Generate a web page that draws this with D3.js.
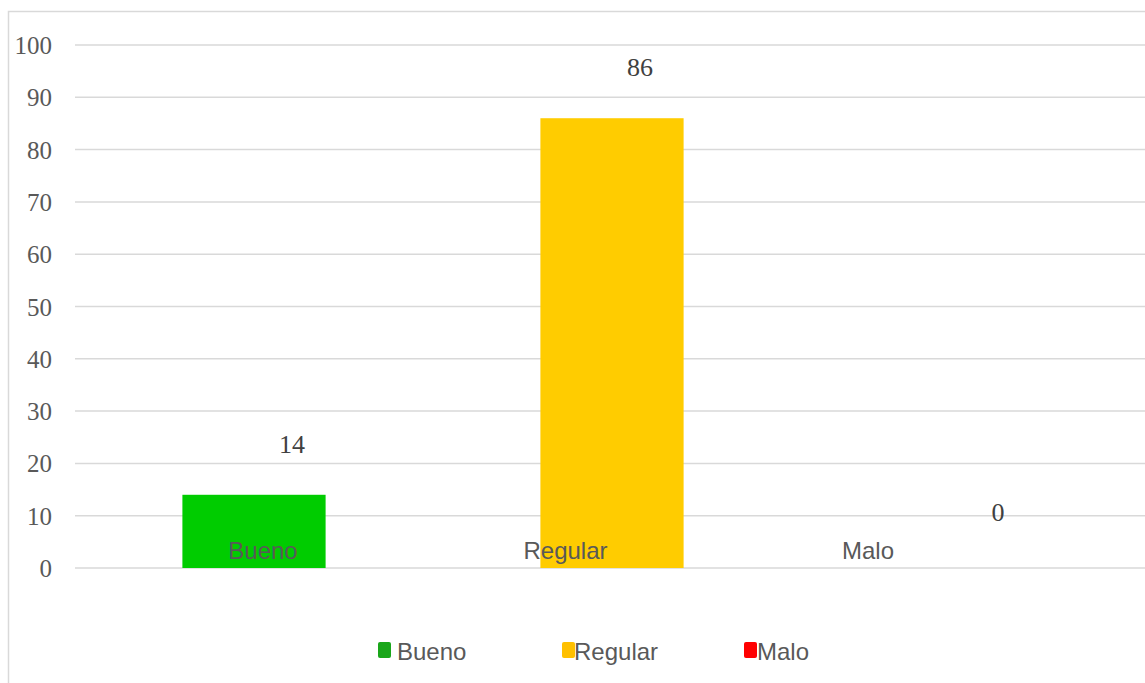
<!DOCTYPE html>
<html>
<head>
<meta charset="utf-8">
<script src="https://cdn.jsdelivr.net/npm/d3@7"></script>
<style>
  body { margin: 0; background: #fff; }
  svg { display: block; }
</style>
</head>
<body>
<div id="chart"></div>
<script>
// chart data
var categories = ["Bueno", "Regular", "Malo"];
var values = [14, 86, 0];
var barColors = ["#00cc00", "#ffcc00", "#ff0000"];
var legendColors = ["#1aa61a", "#ffc000", "#ff0000"];
var yTicks = [0, 10, 20, 30, 40, 50, 60, 70, 80, 90, 100];

var width = 1145, height = 683;

var svg = d3.select("#chart")
    .append("svg")
    .attr("width", width)
    .attr("height", height);

// outer frame (only left/top visible)
svg.append("rect")
    .attr("x", 8.5).attr("y", 11.5)
    .attr("width", 1150).attr("height", 700)
    .attr("fill", "none")
    .attr("stroke", "#d9d9d9")
    .attr("stroke-width", 1.5);

var x = d3.scaleBand()
    .domain(categories)
    .range([75, 1149])
    .paddingInner(0.6)
    .paddingOuter(0.3);

var y = d3.scaleLinear()
    .domain([0, 100])
    .range([568, 45]);

// category labels sit a bit off the bar centres in the original
var xLabel = d3.scalePoint()
    .domain(categories)
    .range([263, 868]);

// gridlines
svg.append("g")
    .selectAll("line")
    .data(yTicks)
    .join("line")
    .attr("x1", 75).attr("x2", 1145)
    .attr("y1", d => y(d)).attr("y2", d => y(d))
    .attr("stroke", "#d9d9d9")
    .attr("stroke-width", 1.5);

// y tick labels
svg.append("g")
    .selectAll("text")
    .data(yTicks)
    .join("text")
    .attr("x", 52)
    .attr("y", d => y(d) + 9)
    .attr("text-anchor", "end")
    .attr("font-family", "'Liberation Serif', 'Times New Roman', serif")
    .attr("font-size", 25)
    .attr("fill", "#595959")
    .text(d => d);

// bars
svg.append("g")
    .selectAll("rect")
    .data(values)
    .join("rect")
    .attr("x", (d, i) => x(categories[i]))
    .attr("y", d => y(d))
    .attr("width", x.bandwidth())
    .attr("height", d => y(0) - y(d))
    .attr("fill", (d, i) => barColors[i]);

// value labels
svg.append("g")
    .selectAll("text")
    .data(values)
    .join("text")
    .attr("x", (d, i) => x(categories[i]) + x.bandwidth() / 2 + (i === 0 ? 38 : 28))
    .attr("y", (d, i) => y(d) - (d === 0 ? 47 : 42))
    .attr("text-anchor", "middle")
    .attr("font-family", "'Liberation Serif', 'Times New Roman', serif")
    .attr("font-size", 26)
    .attr("fill", "#404040")
    .text(d => d);

// category labels
svg.append("g")
    .selectAll("text")
    .data(categories)
    .join("text")
    .attr("x", d => xLabel(d))
    .attr("y", 559)
    .attr("text-anchor", "middle")
    .attr("font-family", "'Liberation Sans', Arial, sans-serif")
    .attr("font-size", 24)
    .attr("fill", "#595959")
    .text(d => d);

// legend
var legendX = [378, 562, 744];
var legendTextX = [397, 574, 757];
var legend = svg.append("g")
    .selectAll("g")
    .data(categories)
    .join("g");

legend.append("rect")
    .attr("x", (d, i) => legendX[i])
    .attr("y", 642)
    .attr("width", 13).attr("height", 16)
    .attr("rx", 2)
    .attr("fill", (d, i) => legendColors[i]);

legend.append("text")
    .attr("x", (d, i) => legendTextX[i])
    .attr("y", 660)
    .attr("font-family", "'Liberation Sans', Arial, sans-serif")
    .attr("font-size", 24)
    .attr("fill", "#595959")
    .text(d => d);
</script>
</body>
</html>
